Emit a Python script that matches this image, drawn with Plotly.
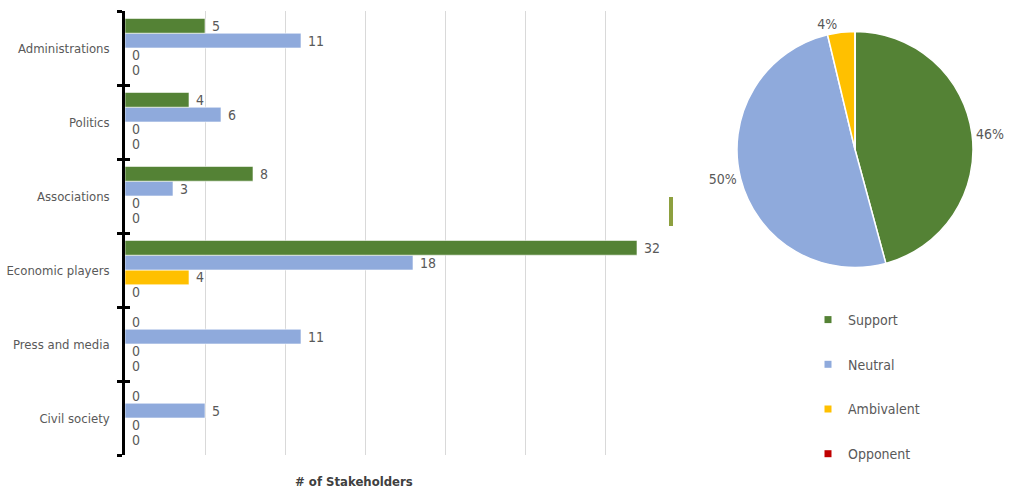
import plotly.graph_objects as go

# Stakeholder groups (top to bottom) and counts per stance
categories = ["Administrations", "Politics", "Associations", "Economic players",
              "Press and media", "Civil society"]
support = [5, 4, 8, 32, 0, 0]
neutral = [11, 6, 3, 18, 11, 5]
ambivalent = [0, 0, 0, 4, 0, 0]
opponent = [0, 0, 0, 0, 0, 0]

stances = ["Support", "Neutral", "Ambivalent", "Opponent"]
series = [support, neutral, ambivalent, opponent]
colors = ["#548235", "#8FAADC", "#FFC000", "#C00000"]

FONT = "DejaVu Sans Condensed, Liberation Sans Narrow, sans-serif"
GREY = "#595959"

W, H = 1011, 494
ML, MR, MT, MB = 0, 0, 11, 39
PW, PH = W - ML - MR, H - MT - MB

def px_x(v):
    return (v - ML) / PW

def px_y(v):
    return (H - MB - v) / PH

fig = go.Figure()

# grouped horizontal bars: Support on top within each group
for name, vals, col in reversed(list(zip(stances, series, colors))):
    fig.add_trace(go.Bar(
        y=categories, x=vals, orientation="h", name=name,
        marker=dict(color=col, line=dict(color="rgba(255,255,255,0.6)", width=1)),
        text=["\u00a0" + str(v) for v in vals], textposition="outside",
        constraintext="none",
        textfont=dict(family=FONT, size=14, color=GREY),
        cliponaxis=False, showlegend=False,
    ))

# pie of total stakeholders per stance
totals = [sum(s) for s in series]
fig.add_trace(go.Pie(
    labels=stances, values=totals, sort=False, direction="clockwise", rotation=0,
    marker=dict(colors=colors, line=dict(color="white", width=1.5)),
    texttemplate=["%{percent:.0%}" if v > 0 else "" for v in totals],
    textposition="outside",
    textfont=dict(family=FONT, size=14, color=GREY),
    domain=dict(x=[px_x(737), px_x(973)], y=[px_y(268), px_y(31)]),
    showlegend=False, hoverinfo="label+value+percent",
))

# legend entries as small square markers
for name, col in zip(stances, colors):
    fig.add_trace(go.Scatter(
        x=[None], y=[None], mode="markers", name=name, legendgroup=name,
        marker=dict(symbol="square", size=7, color=col),
        showlegend=True, hoverinfo="skip",
    ))

fig.update_layout(
    width=W, height=H,
    margin=dict(l=ML, r=MR, t=MT, b=MB, autoexpand=False),
    paper_bgcolor="white", plot_bgcolor="white",
    barmode="group", bargap=0.2, bargroupgap=0,
    font=dict(family=FONT, size=14, color=GREY),
    showlegend=True,
    legend=dict(x=px_x(808), y=px_y(304), xanchor="left", yanchor="top",
                tracegroupgap=23.5, font=dict(family=FONT, size=14, color=GREY),
                bgcolor="rgba(0,0,0,0)", itemclick=False),
    xaxis=dict(domain=[px_x(125), px_x(653)], range=[0, 33], dtick=5,
               showgrid=True, gridcolor="#D9D9D9", gridwidth=1,
               showticklabels=False, zeroline=False, showline=False, fixedrange=True),
    yaxis=dict(type="category", categoryorder="array",
               categoryarray=list(reversed(categories)), range=[-0.5, 5.5],
               showline=True, linecolor="black", linewidth=2.5,
               ticks="outside", tickson="boundaries", ticklen=5, tickwidth=2.5,
               tickcolor="black", ticklabelstandoff=10,
               tickfont=dict(family=FONT, size=13, color=GREY),
               showgrid=False, zeroline=False, fixedrange=True),
    # inner half of the boundary tick marks
    yaxis2=dict(overlaying="y", anchor="x", side="left", range=[-0.5, 5.5],
                tickvals=[i - 0.5 for i in range(len(categories) + 1)],
                ticks="inside", ticklen=5, tickwidth=2.5, tickcolor="black",
                showticklabels=False, showgrid=False, zeroline=False,
                showline=False, fixedrange=True),
)

# dummy trace so the second axis is drawn
fig.add_trace(go.Scatter(x=[None], y=[None], yaxis="y2", showlegend=False,
                         hoverinfo="skip"))

# small olive stroke between the two panels
fig.add_shape(type="line", xref="paper", yref="paper",
              x0=px_x(671), x1=px_x(671), y0=px_y(226), y1=px_y(197),
              line=dict(color="#8DA03F", width=4))

fig.add_annotation(text="<b># of Stakeholders</b>", xref="paper", yref="paper",
                   x=px_x(354), y=px_y(482), xanchor="center", yanchor="middle",
                   showarrow=False, font=dict(family=FONT, size=13, color="#404040"))

fig.write_html("out.html")
